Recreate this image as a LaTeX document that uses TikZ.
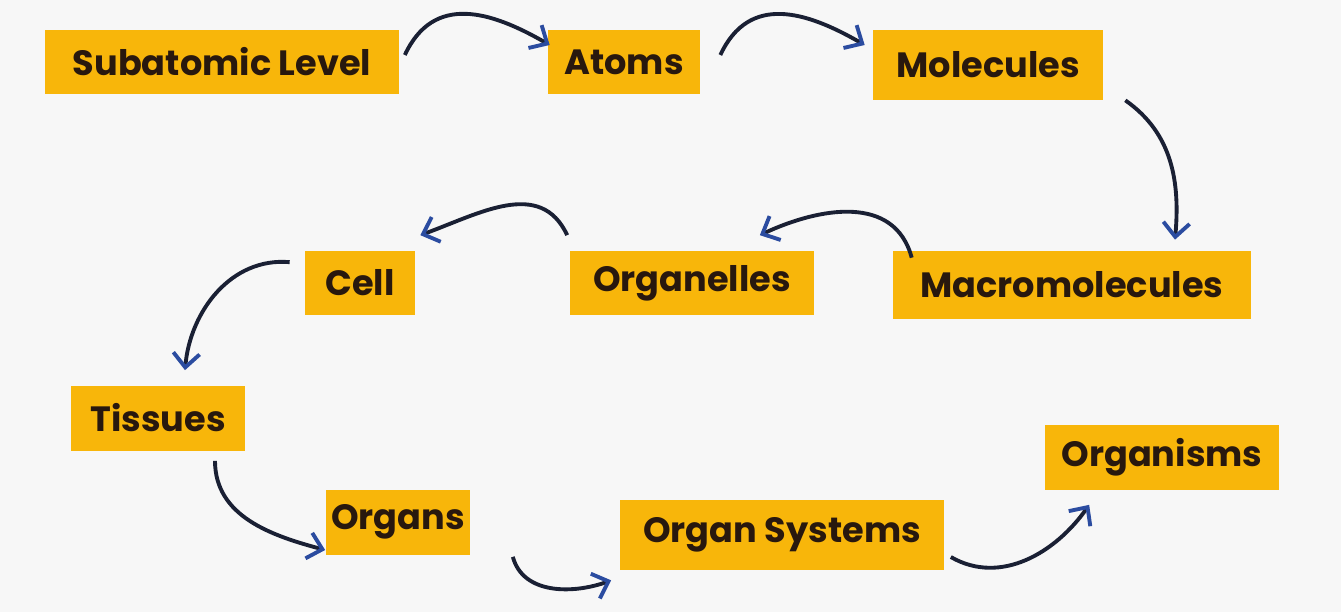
\documentclass[tikz,border=0pt]{standalone}
\usepackage{fontspec}
\setmainfont{Poppins}
\usetikzlibrary{arrows.meta, positioning, calc}
\definecolor{boxgold}{RGB}{248,182,10}
\definecolor{inkdark}{RGB}{40,24,14}
\definecolor{linenavy}{RGB}{26,32,52}
\definecolor{tipblue}{RGB}{43,76,160}
\definecolor{bggrey}{RGB}{247,247,247}
\tikzset{
  level/.style={fill=boxgold, text=inkdark, font=\fontsize{20}{24}\selectfont\bfseries, inner sep=0pt, minimum height=1.3cm},
  flow/.style={line width=2.2pt, linenavy, -{Straight Barb[color=tipblue, length=8pt, width=15pt, line width=2.2pt]}}
}

\begin{document}
\begin{tikzpicture}[x=0.02cm, y=0.02cm]
        % background and frame
        \fill[bggrey] (0,0) rectangle (1341,-612);
        \useasboundingbox (0,0) rectangle (1341,-612);

        % levels of organisation
        \node[level, minimum width=7.1cm] (sub) at (222,-62) {Subatomic Level};
        \node[level, minimum width=3.04cm] (atoms) at (624,-62) {Atoms};
        \node[level, minimum width=4.6cm, minimum height=1.4cm] (mol) at (988,-65) {Molecules};
        \node[level, minimum width=7.16cm, minimum height=1.36cm] (macro) at (1072,-285) {Macromolecules};
        \node[level, minimum width=4.9cm] (org) at (692,-283) {Organelles};
        \node[level, minimum width=2.2cm] (cell) at (360,-283) {Cell};
        \node[level, minimum width=3.5cm] (tis) at (158,-418) {Tissues};
        \node[level, minimum width=2.9cm] (organs) at (398,-522) {Organs};
        \node[level, minimum width=6.5cm, minimum height=1.4cm] (sys) at (782,-535) {Organ Systems};
        \node[level, minimum width=4.7cm] (orgm) at (1162,-457) {Organisms};

        % curved links
        \draw[flow] ([shift={(5,7)}]sub.east) to[out=65,in=150,looseness=1.2] ([shift={(2,17)}]atoms.west);
        \draw[flow] ([shift={(20,7)}]atoms.east) to[out=65,in=150,looseness=1.2] ([shift={(-8,20)}]mol.west);
        \draw[flow] ([shift={(22,0)}]mol.south east) to[out=-35,in=85] ([shift={(103,11)}]macro.north);
        \draw[flow] ([shift={(19,-7)}]macro.north west) to[out=105,in=25,looseness=1.1] ([shift={(-55,15)}]org.north east);
        \draw[flow] ([shift={(-2,15)}]org.north west) to[out=115,in=20,looseness=1.1] ([shift={(5,15)}]cell.north east);
        \draw[flow] ([shift={(-15,-12)}]cell.north west) to[out=175,in=85] ([shift={(27,15)}]tis.north);
        \draw[flow] ([shift={(57,-10)}]tis.south) to[out=-90,in=165] ([shift={(0,-28)}]organs.west);
        \draw[flow] ([shift={(42,-2)}]organs.south east) to[out=-75,in=200] ([shift={(-8,-10)}]sys.south west);
        \draw[flow] ([shift={(6,-22)}]sys.east) to[out=-30,in=235] ([shift={(45,-15)}]orgm.south west);
      \end{tikzpicture}
\end{document}
